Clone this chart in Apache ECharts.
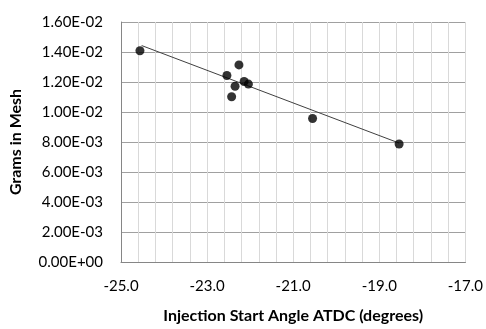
<!DOCTYPE html>
<html>
<head>
<meta charset="utf-8">
<script src="https://cdn.jsdelivr.net/npm/echarts@6/dist/echarts.min.js"></script>
<style>
  html, body { margin: 0; padding: 0; background: #fff; }
  #chart { width: 486px; height: 329px; }
</style>
</head>
<body>
<div id="chart"></div>
<script>
// Injection start angle (deg ATDC) vs grams collected in the mesh
const angles = [-24.56, -22.54, -22.26, -22.35, -22.43, -22.14, -22.04, -20.55, -18.54];
const grams  = [0.01408, 0.01243, 0.01314, 0.01172, 0.01102, 0.01203, 0.01186, 0.00957, 0.00787];

// Linear trendline endpoints
const trendX = [-24.52, -18.54];
const trendY = [0.01443, 0.00793];

const xTitle = 'Injection Start Angle ATDC (degrees)';
const yTitle = 'Grams in Mesh';

const fontFamily = 'Lato, "Open Sans", sans-serif';

function sci(v) {
  const s = Number(v).toExponential(2).toUpperCase();
  const m = s.match(/^(-?[\d.]+)E([+-])(\d+)$/);
  return m[1] + 'E' + m[2] + (m[3].length < 2 ? '0' + m[3] : m[3]);
}

const chart = echarts.init(document.getElementById('chart'), null, { renderer: 'canvas' });
chart.setOption({
  animation: false,
  backgroundColor: '#ffffff',
  grid: { left: 119, right: 16, top: 22, bottom: 65 },
  xAxis: {
    type: 'value',
    min: -25, max: -17, interval: 2,
    name: xTitle,
    nameLocation: 'middle',
    nameGap: 46,
    nameTextStyle: { fontFamily, fontSize: 16, fontWeight: 'bold', color: '#000' },
    axisLine: { show: true, lineStyle: { color: '#868686', width: 1 } },
    axisTick: { show: false },
    axisLabel: {
      fontFamily, fontSize: 15, color: '#000', margin: 17,
      formatter: v => v.toFixed(1)
    },
    splitLine: { show: true, lineStyle: { color: '#d9d9d9', width: 1 } },
    minorTick: { show: false, splitNumber: 5 },
    minorSplitLine: { show: true, lineStyle: { color: '#d9d9d9', width: 1 } }
  },
  yAxis: {
    type: 'value',
    min: 0, max: 0.016, interval: 0.002,
    name: yTitle,
    nameLocation: 'middle',
    nameGap: 97,
    nameTextStyle: { fontFamily, fontSize: 16, fontWeight: 'bold', color: '#000' },
    axisLine: { show: true, lineStyle: { color: '#868686', width: 1 } },
    axisTick: { show: false },
    axisLabel: { fontFamily, fontSize: 15, color: '#000', margin: 18, formatter: sci },
    splitLine: { show: true, lineStyle: { color: '#a0a0a0', width: 1 } }
  },
  series: [
    {
      type: 'line',
      data: trendX.map((x, i) => [x, trendY[i]]),
      showSymbol: false,
      symbol: 'none',
      lineStyle: { color: '#404040', width: 1 },
      z: 2
    },
    {
      type: 'scatter',
      data: angles.map((x, i) => [x, grams[i]]),
      symbol: 'circle',
      symbolSize: 9,
      itemStyle: { color: '#000000' },
      z: 3
    }
  ]
});
</script>
</body>
</html>
